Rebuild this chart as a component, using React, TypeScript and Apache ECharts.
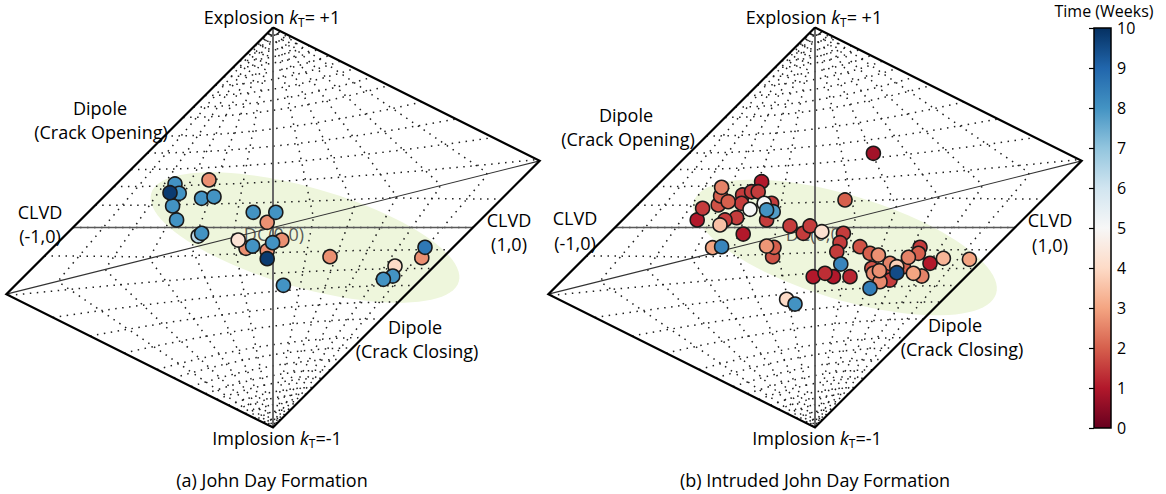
import React, { useEffect, useRef } from "react";
import * as echarts from "echarts";

const FONT = "'Open Sans', 'Noto Sans', sans-serif";

// Source-type estimates in Hudson (u, v) coordinates with elapsed time in weeks: [u, v, weeks]
const johnDayEvents: number[][] = [
  [-0.49, 0.218, 8.0],
  [-0.515, 0.174, 9.8],
  [-0.469, 0.171, 8.0],
  [-0.32, 0.238, 2.7],
  [-0.357, 0.146, 8.0],
  [-0.295, 0.154, 8.0],
  [-0.502, 0.108, 8.0],
  [-0.482, 0.038, 8.0],
  [-0.099, 0.076, 8.0],
  [0.014, 0.076, 8.0],
  [-0.029, 0.026, 2.7],
  [-0.374, -0.043, 6.3],
  [-0.357, -0.029, 8.0],
  [-0.174, -0.063, 4.3],
  [-0.135, -0.104, 2.7],
  [-0.102, -0.093, 8.0],
  [-0.029, -0.116, 2.7],
  [-0.002, -0.076, 8.0],
  [0.044, -0.063, 2.7],
  [-0.029, -0.156, 9.8],
  [0.052, -0.289, 8.0],
  [0.285, -0.146, 2.7],
  [0.76, -0.099, 8.6],
  [0.744, -0.151, 2.7],
  [0.61, -0.193, 4.0],
  [0.599, -0.243, 8.0],
  [0.552, -0.259, 8.0],
];

const intrudedEvents: number[][] = [
  [0.292, 0.371, 0.8],
  [0.15, 0.138, 2.0],
  [-0.267, 0.229, 1.0],
  [-0.467, 0.201, 2.5],
  [-0.472, 0.158, 2.0],
  [-0.434, 0.129, 2.0],
  [-0.484, 0.113, 1.8],
  [-0.562, 0.096, 1.5],
  [-0.589, 0.038, 1.0],
  [-0.362, 0.163, 1.5],
  [-0.317, 0.179, 1.5],
  [-0.284, 0.179, 1.5],
  [-0.367, 0.121, 1.5],
  [-0.325, 0.091, 5.0],
  [-0.254, 0.121, 5.0],
  [-0.217, 0.121, 1.5],
  [-0.242, 0.088, 8.0],
  [-0.209, 0.079, 7.8],
  [-0.242, 0.038, 1.5],
  [-0.392, 0.049, 1.5],
  [-0.45, 0.038, 1.5],
  [-0.475, 0.013, 3.5],
  [-0.359, -0.033, 1.0],
  [-0.125, 0.008, 1.5],
  [-0.059, -0.029, 1.5],
  [-0.025, 0.008, 1.5],
  [0.034, -0.021, 4.2],
  [0.142, -0.029, 1.5],
  [-0.512, -0.101, 3.0],
  [-0.467, -0.096, 8.3],
  [-0.242, -0.093, 2.8],
  [-0.205, -0.099, 2.0],
  [-0.212, -0.146, 1.8],
  [0.125, -0.076, 1.5],
  [0.109, -0.121, 1.5],
  [0.225, -0.096, 1.8],
  [0.129, -0.183, 8.3],
  [-0.009, -0.246, 1.0],
  [0.05, -0.229, 1.3],
  [0.092, -0.246, 1.0],
  [0.175, -0.246, 1.2],
  [0.275, -0.129, 2.0],
  [0.317, -0.138, 2.7],
  [0.284, -0.204, 1.8],
  [0.322, -0.216, 2.7],
  [0.292, -0.229, 2.6],
  [0.275, -0.304, 8.5],
  [0.325, -0.271, 2.6],
  [0.367, -0.238, 1.5],
  [0.375, -0.179, 2.5],
  [0.409, -0.196, 3.8],
  [0.409, -0.226, 9.5],
  [0.442, -0.196, 2.0],
  [0.467, -0.149, 2.5],
  [0.517, -0.129, 2.0],
  [0.525, -0.099, 1.5],
  [0.492, -0.229, 3.0],
  [0.534, -0.243, 2.5],
  [0.575, -0.179, 1.0],
  [0.642, -0.154, 3.3],
  [0.772, -0.159, 3.0],
  [-0.142, -0.359, 4.0],
  [-0.1, -0.383, 8.0],
  [0.375, -0.263, 1.5],
];

// Colour bar: ticks (weeks) and the diverging red-blue palette
const weekTicks = [0, 1, 2, 3, 4, 5, 6, 7, 8, 9, 10];
const rdBu = [
  "#67001f", "#b2182b", "#d6604d", "#f4a582", "#fddbc7", "#f7f7f7",
  "#d1e5f0", "#92c5de", "#4393c3", "#2166ac", "#053061",
];

// Shaded event-density regions: centre (u, v), semi-axes, rotation (deg)
const regionJohnDay = [0.16, -0.05, 0.8, 0.25, -16];
const regionIntruded = [0.15, -0.1, 0.79, 0.26, -17];

// Lune grid levels drawn as dotted lines (longitude gamma, colatitude beta)
const gammaLevels = [-25, -20, -15, -10, -5, 5, 10, 15, 20, 25];
const betaLevels = [
  2, 4, 6, 8, 10, 13, 16, 20, 25, 30, 40, 50, 60, 70, 80, 90,
  100, 110, 120, 130, 140, 150, 155, 160, 164, 167, 170, 172, 174, 176, 178,
];

// Hudson et al. (1989) mapping from (T, k) to the skewed diamond plane
function hudson(T: number, k: number): number[] {
  const tau = T * (1 - Math.abs(k));
  let u = tau;
  let v = k;
  if (tau > 0 && k > 0) {
    if (tau < 4 * k) {
      u = tau / (1 - tau / 2);
      v = k / (1 - tau / 2);
    } else {
      u = tau / (1 - 2 * k);
      v = k / (1 - 2 * k);
    }
  } else if (tau < 0 && k < 0) {
    if (tau > 4 * k) {
      u = tau / (1 + tau / 2);
      v = k / (1 + tau / 2);
    } else {
      u = tau / (1 + 2 * k);
      v = k / (1 + 2 * k);
    }
  }
  return [u, v];
}

// Lune point -> eigenvalues -> Hudson (T, k) -> (u, v)
function luneToUV(gDeg: number, bDeg: number): number[] {
  const g = (gDeg * Math.PI) / 180;
  const b = (bDeg * Math.PI) / 180;
  const s6 = Math.sqrt(6), s3 = Math.sqrt(3), s2 = Math.sqrt(2);
  const x = Math.cos(g) * Math.sin(b);
  const y = Math.sin(g) * Math.sin(b);
  const z = Math.cos(b);
  const l = [(s3 * x - y + s2 * z) / s6, (2 * y + s2 * z) / s6, (-s3 * x - y + s2 * z) / s6].sort(
    (p, q) => q - p
  );
  const m = (l[0] + l[1] + l[2]) / 3;
  const d = l.map((e) => e - m);
  const dm = Math.max(Math.abs(d[0]), Math.abs(d[2]));
  if (dm < 1e-12) return [0, m > 0 ? 1 : -1];
  const k = m / (Math.abs(m) + dm);
  const T = (2 * d[1]) / dm;
  return hudson(T, k);
}

function buildGridLines(): number[][][] {
  const lines: number[][][] = [];
  gammaLevels.forEach((g) => {
    const pts: number[][] = [];
    for (let b = 0; b <= 180; b += 1) pts.push(luneToUV(g, b));
    lines.push(pts);
  });
  betaLevels.forEach((b) => {
    const pts: number[][] = [];
    for (let g = -30; g <= 30; g += 1) pts.push(luneToUV(g, b));
    lines.push(pts);
  });
  return lines;
}

function ellipse(r: number[]): number[][] {
  const [cu, cv, a, b, rot] = r;
  const th = (rot * Math.PI) / 180;
  const pts: number[][] = [];
  for (let i = 0; i < 96; i++) {
    const t = (i / 96) * Math.PI * 2;
    const x = a * Math.cos(t);
    const y = b * Math.sin(t);
    pts.push([cu + x * Math.cos(th) - y * Math.sin(th), cv + x * Math.sin(th) + y * Math.cos(th)]);
  }
  return pts;
}

const DIAMOND = [
  [0, 1],
  [4 / 3, 1 / 3],
  [0, -1],
  [-4 / 3, -1 / 3],
  [0, 1],
];

function plotSeries(idx: number, events: number[][], region: number[], gridLines: number[][][]): any[] {
  const blob = ellipse(region);
  const sorted = events.slice().sort((p, q) => p[2] - q[2]);
  return [
    {
      type: "custom",
      xAxisIndex: idx,
      yAxisIndex: idx,
      silent: true,
      z: 1,
      data: [[0, 0]],
      renderItem: (_p: any, api: any) => ({
        type: "polygon",
        shape: { points: blob.map((pt) => api.coord(pt)), smooth: 0 },
        style: { fill: "#eef6dc" },
      }),
    },
    {
      type: "custom",
      xAxisIndex: idx,
      yAxisIndex: idx,
      silent: true,
      z: 2,
      data: gridLines.map(() => [0, 0]),
      renderItem: (p: any, api: any) => ({
        type: "polyline",
        shape: { points: gridLines[p.dataIndex].map((pt) => api.coord(pt)) },
        style: { stroke: "#1e1e1e", lineWidth: 1.5, lineDash: [1.5, 5.5], fill: null },
      }),
    },
    {
      type: "custom",
      xAxisIndex: idx,
      yAxisIndex: idx,
      silent: true,
      z: 3,
      data: [[0, 0]],
      renderItem: (_p: any, api: any) => {
        const c = (pt: number[]) => api.coord(pt);
        return {
          type: "group",
          children: [
            {
              type: "polyline",
              shape: { points: [c([0, 1]), c([0, -1])] },
              style: { stroke: "#5a5a5a", lineWidth: 1.8, fill: null },
            },
            {
              type: "polyline",
              shape: { points: [c([-1, 0]), c([1, 0])] },
              style: { stroke: "#5a5a5a", lineWidth: 1.5, fill: null },
            },
            {
              type: "polyline",
              shape: { points: [c([-4 / 3, -1 / 3]), c([4 / 3, 1 / 3])] },
              style: { stroke: "#333", lineWidth: 1.2, fill: null },
            },
            {
              type: "polyline",
              shape: { points: DIAMOND.map(c) },
              style: { stroke: "#000", lineWidth: 2.2, fill: null, lineJoin: "miter" },
            },
          ],
        };
      },
    },
    {
      type: "scatter",
      xAxisIndex: idx,
      yAxisIndex: idx,
      silent: true,
      z: 4,
      symbolSize: 1,
      itemStyle: { color: "rgba(0,0,0,0)" },
      data: [[0, 0]],
      label: {
        show: true,
        position: "inside",
        offset: [1, 6],
        formatter: "DC(0,0)",
        fontFamily: FONT,
        fontSize: 18,
        color: "#333",
      },
    },
    {
      type: "scatter",
      xAxisIndex: idx,
      yAxisIndex: idx,
      z: 5,
      symbolSize: 14,
      itemStyle: { borderColor: "#1a1a1a", borderWidth: 1.6, opacity: 1 },
      data: sorted,
    },
  ];
}

function text(t: string, x: number, y: number, size = 18, lineHeight?: number): any {
  return {
    type: "text",
    x,
    y,
    silent: true,
    style: {
      text: t,
      fill: "#000",
      font: `${size}px ${FONT}`,
      align: "center",
      verticalAlign: "middle",
      lineHeight: lineHeight ?? size + 4,
    },
  };
}

function kLabel(main: string, tail: string, x: number, y: number): any {
  return {
    type: "text",
    x,
    y,
    silent: true,
    style: {
      text: `{a|${main} }{k|k}{s|T}{a|${tail}}`,
      align: "center",
      verticalAlign: "middle",
      fill: "#000",
      rich: {
        a: { fontFamily: FONT, fontSize: 18, lineHeight: 22, fill: "#000" },
        k: { fontFamily: FONT, fontSize: 18, lineHeight: 22, fontStyle: "italic", fill: "#000" },
        s: { fontFamily: FONT, fontSize: 12, lineHeight: 12, verticalAlign: "bottom", fill: "#000" },
      },
    },
  };
}

export default function App() {
  const ref = useRef<HTMLDivElement>(null);

  useEffect(() => {
    if (!ref.current) return;
    const chart = echarts.init(ref.current, undefined, { renderer: "svg" });
    const gridLines = buildGridLines();

    const half = 4 / 3;
    const plotAxis = (gi: number) => ({
      gridIndex: gi,
      type: "value",
      min: -half,
      max: half,
      show: false,
    });
    const plotYAxis = (gi: number) => ({ gridIndex: gi, type: "value", min: -1, max: 1, show: false });

    const seriesA = plotSeries(0, johnDayEvents, regionJohnDay, gridLines);
    const seriesB = plotSeries(1, intrudedEvents, regionIntruded, gridLines);

    const stops = rdBu.map((c, i) => ({ offset: i / (rdBu.length - 1), color: c }));

    const option: any = {
      animation: false,
      backgroundColor: "#fff",
      textStyle: { fontFamily: FONT },
      grid: [
        { left: 273 - 266.667, top: 27.5, width: 533.333, height: 400, outerBoundsMode: "none" },
        { left: 815 - 266.667, top: 27.5, width: 533.333, height: 400, outerBoundsMode: "none" },
        { left: 1094, top: 28, width: 17, height: 400, outerBoundsMode: "none" },
      ],
      xAxis: [
        plotAxis(0),
        plotAxis(1),
        { gridIndex: 2, type: "value", min: 0, max: 1, show: false },
      ],
      yAxis: [
        plotYAxis(0),
        plotYAxis(1),
        {
          gridIndex: 2,
          type: "value",
          position: "right",
          min: weekTicks[0],
          max: weekTicks[weekTicks.length - 1],
          interval: 1,
          axisLine: { show: false },
          splitLine: { show: false },
          axisTick: { show: true, inside: true, length: 5, lineStyle: { color: "#000", width: 1.2 } },
          axisLabel: { show: true, color: "#000", fontSize: 16, fontFamily: FONT, margin: 6, lineHeight: 16 },
        },
      ],
      visualMap: {
        type: "continuous",
        show: false,
        min: 0,
        max: 10,
        dimension: 2,
        seriesIndex: [4, 9],
        inRange: { color: rdBu },
      },
      series: [
        ...seriesA,
        ...seriesB,
        {
          type: "custom",
          xAxisIndex: 2,
          yAxisIndex: 2,
          silent: true,
          z: 1,
          data: [[0, 0]],
          renderItem: (_p: any, api: any) => {
            const a = api.coord([0, weekTicks[0]]);
            const b = api.coord([1, weekTicks[weekTicks.length - 1]]);
            return {
              type: "rect",
              shape: { x: a[0], y: b[1], width: b[0] - a[0], height: a[1] - b[1] },
              style: {
                fill: new echarts.graphic.LinearGradient(0, 1, 0, 0, stops),
                stroke: "#000",
                lineWidth: 1.5,
              },
            };
          },
        },
      ],
      graphic: [
        kLabel("Explosion", "= +1", 272, 17),
        text("Dipole", 100, 108),
        text("(Crack Opening)", 101, 132),
        text("CLVD", 40, 212),
        text("(-1,0)", 40, 236),
        text("CLVD", 509, 220),
        text("(1,0)", 509, 244),
        text("Dipole", 415, 327),
        text("(Crack Closing)", 417, 351),
        kLabel("Implosion", "=-1", 277, 438),
        text("(a) John Day Formation", 272, 480),

        kLabel("Explosion", "= +1", 814, 17),
        text("Dipole", 626, 115),
        text("(Crack Opening)", 628, 139),
        text("CLVD", 575, 218),
        text("(-1,0)", 575, 243),
        text("CLVD", 1050, 220),
        text("(1,0)", 1050, 245),
        text("Dipole", 955, 325),
        text("(Crack Closing)", 962, 349),
        kLabel("Implosion", "=-1", 817, 438),
        text("(b) Intruded John Day Formation", 815, 480),

        text("Time (Weeks)", 1104, 11, 16, 16),
      ],
    };

    chart.setOption(option);
    return () => chart.dispose();
  }, []);

  return (
    <div
      ref={ref}
      style={{ position: "fixed", left: 0, top: 0, width: 1166, height: 494, background: "#fff" }}
    />
  );
}
